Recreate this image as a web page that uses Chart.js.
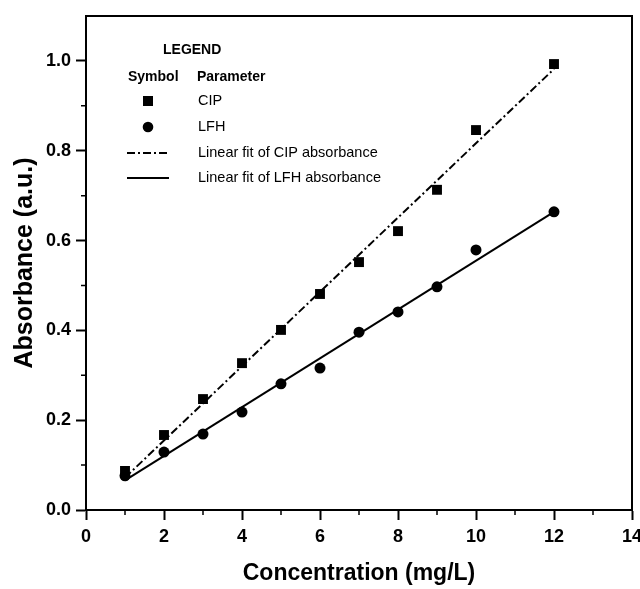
<!DOCTYPE html>
<html lang="en">
<head>
    <meta charset="UTF-8">
    <title>Absorbance vs Concentration</title>
    <script src="https://cdn.jsdelivr.net/npm/chart.js@4.4.1/dist/chart.umd.min.js"></script>
    <style>
        body {
            margin: 0;
            padding: 0;
            background: #fff;
        }
        .chart-box {
            width: 640px;
            height: 589px;
        }
    </style>
</head>
<body>
    <div class="chart-box">
        <canvas id="absChart" width="640" height="589"></canvas>
    </div>

    <script>
        // concentrations (mg/L)
        const concentrations = [1, 2, 3, 4, 5, 6, 7, 8, 9, 10, 12];
        const cipAbs = [0.087, 0.167, 0.247, 0.327, 0.401, 0.481, 0.552, 0.621, 0.713, 0.846, 0.993];
        const lfhAbs = [0.076, 0.129, 0.169, 0.218, 0.281, 0.316, 0.396, 0.441, 0.497, 0.579, 0.664];

        // fit line end points
        const fitX = [1, 12];
        const cipFit = [0.072, 0.982];
        const lfhFit = [0.066, 0.664];

        const xTicks = [0, 2, 4, 6, 8, 10, 12, 14];
        const yTicks = ['0.0', '0.2', '0.4', '0.6', '0.8', '1.0'];

        const legendRows = ['CIP', 'LFH', 'Linear fit of CIP absorbance', 'Linear fit of LFH absorbance'];

        const FONT = "'Liberation Sans', Arial, sans-serif";

        function pts(xs, ys) {
            return xs.map((x, i) => ({ x: x, y: ys[i] }));
        }

        // frame, minor ticks and the in-plot legend
        const extras = {
            id: 'extras',
            afterDraw(chart) {
                const ctx = chart.ctx;
                const area = chart.chartArea;
                const xs = chart.scales.x;
                const ys = chart.scales.y;
                ctx.save();
                ctx.strokeStyle = '#000';
                ctx.lineWidth = 2;
                ctx.strokeRect(area.left, area.top, area.right - area.left, area.bottom - area.top);

                // minor ticks
                ctx.lineWidth = 1.5;
                ctx.beginPath();
                for (let v = 1; v < 14; v += 2) {
                    const px = xs.getPixelForValue(v);
                    ctx.moveTo(px, area.bottom);
                    ctx.lineTo(px, area.bottom + 5);
                }
                for (let v = 1; v < 11; v += 2) {
                    const py = ys.getPixelForValue(v / 10);
                    ctx.moveTo(area.left, py);
                    ctx.lineTo(area.left - 5, py);
                }
                ctx.stroke();

                // legend
                ctx.fillStyle = '#000';
                ctx.textBaseline = 'middle';
                ctx.textAlign = 'left';
                ctx.font = 'bold 14px ' + FONT;
                ctx.fillText('LEGEND', 163, 50);
                ctx.fillText('Symbol', 128, 77);
                ctx.fillText('Parameter', 197, 77);

                ctx.font = '14.5px ' + FONT;
                const rowY = [101, 127, 153, 178];
                legendRows.forEach((t, i) => ctx.fillText(t, 198, rowY[i]));

                ctx.fillRect(143, rowY[0] - 5, 10, 10);
                ctx.beginPath();
                ctx.arc(148, rowY[1], 5.3, 0, Math.PI * 2);
                ctx.fill();

                ctx.lineWidth = 2;
                ctx.setLineDash([8, 3, 2, 3]);
                ctx.beginPath();
                ctx.moveTo(127, rowY[2]);
                ctx.lineTo(168, rowY[2]);
                ctx.stroke();
                ctx.setLineDash([]);
                ctx.beginPath();
                ctx.moveTo(127, rowY[3]);
                ctx.lineTo(169, rowY[3]);
                ctx.stroke();
                ctx.restore();
            }
        };

        const ctx = document.getElementById('absChart').getContext('2d');
        new Chart(ctx, {
            type: 'scatter',
            data: {
                datasets: [
                    {
                        label: 'Linear fit of CIP absorbance',
                        type: 'line',
                        data: pts(fitX, cipFit),
                        borderColor: '#000',
                        borderWidth: 2,
                        borderDash: [8, 3, 2, 3],
                        pointRadius: 0,
                        fill: false
                    },
                    {
                        label: 'Linear fit of LFH absorbance',
                        type: 'line',
                        data: pts(fitX, lfhFit),
                        borderColor: '#000',
                        borderWidth: 2,
                        pointRadius: 0,
                        fill: false
                    },
                    {
                        label: 'CIP',
                        data: pts(concentrations, cipAbs),
                        pointStyle: 'rect',
                        pointRadius: 7,
                        backgroundColor: '#000',
                        borderColor: '#000',
                        borderWidth: 0
                    },
                    {
                        label: 'LFH',
                        data: pts(concentrations, lfhAbs),
                        pointStyle: 'circle',
                        pointRadius: 5.5,
                        backgroundColor: '#000',
                        borderColor: '#000',
                        borderWidth: 0
                    }
                ]
            },
            options: {
                responsive: false,
                animation: false,
                layout: { padding: { left: 0, top: 16, right: 8, bottom: 0 } },
                plugins: {
                    legend: { display: false },
                    tooltip: { enabled: false }
                },
                scales: {
                    x: {
                        type: 'linear',
                        min: 0,
                        max: 14,
                        afterFit(scale) {
                            scale.height = 79;
                            scale.paddingLeft = 0;
                            scale.paddingRight = 0;
                        },
                        afterBuildTicks(scale) {
                            scale.ticks = xTicks.map(v => ({ value: v }));
                        },
                        ticks: {
                            autoSkip: false,
                            maxRotation: 0,
                            padding: 6,
                            color: '#000',
                            font: { family: FONT, size: 18, weight: 'bold' },
                            callback: v => String(v)
                        },
                        grid: {
                            drawOnChartArea: false,
                            drawTicks: true,
                            tickLength: 10,
                            tickWidth: 2,
                            tickColor: '#000'
                        },
                        border: { color: '#000', width: 2 },
                        title: {
                            display: true,
                            text: 'Concentration (mg/L)',
                            color: '#000',
                            font: { family: FONT, size: 23, weight: 'bold' },
                            padding: { top: 0, bottom: 2 }
                        }
                    },
                    y: {
                        type: 'linear',
                        min: 0,
                        max: 1.1,
                        afterFit(scale) {
                            scale.width = 86;
                            scale.paddingTop = 0;
                            scale.paddingBottom = 0;
                        },
                        afterBuildTicks(scale) {
                            scale.ticks = yTicks.map(v => ({ value: parseFloat(v) }));
                        },
                        ticks: {
                            autoSkip: false,
                            padding: 5,
                            color: '#000',
                            font: { family: FONT, size: 18, weight: 'bold' },
                            callback: (v, i) => yTicks[i]
                        },
                        grid: {
                            drawOnChartArea: false,
                            drawTicks: true,
                            tickLength: 10,
                            tickWidth: 2,
                            tickColor: '#000'
                        },
                        border: { color: '#000', width: 2 },
                        title: {
                            display: true,
                            text: 'Absorbance (a.u.)',
                            color: '#000',
                            font: { family: FONT, size: 25, weight: 'bold' },
                            padding: { top: 10, bottom: 0 }
                        }
                    }
                }
            },
            plugins: [extras]
        });
    </script>
</body>
</html>
